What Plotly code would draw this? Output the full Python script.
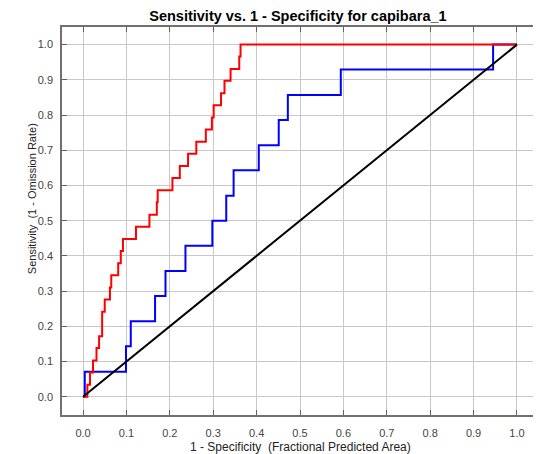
import plotly.graph_objects as go

# Training data (red) - step points: x = fractional predicted area, y = sensitivity
red_x = [0.000, 0.010, 0.016, 0.023, 0.031, 0.037, 0.044, 0.050, 0.062, 0.065, 0.081, 0.087, 0.092, 0.122,
         0.153, 0.170, 0.172, 0.206, 0.223, 0.242, 0.261, 0.283, 0.297, 0.301, 0.318, 0.326, 0.340, 0.360,
         0.363, 1.000]
red_y = [0.000, 0.034, 0.069, 0.103, 0.138, 0.172, 0.241, 0.276, 0.310, 0.345, 0.379, 0.414, 0.448, 0.483,
         0.517, 0.552, 0.586, 0.621, 0.655, 0.690, 0.724, 0.759, 0.793, 0.828, 0.862, 0.897, 0.931, 0.966,
         1.000, 1.000]

# Test data (blue)
blue_x = [0.000, 0.004, 0.099, 0.110, 0.166, 0.190, 0.236, 0.298, 0.330, 0.347, 0.405, 0.451, 0.472,
          0.594, 0.945, 1.000]
blue_y = [0.000, 0.071, 0.143, 0.214, 0.286, 0.357, 0.429, 0.500, 0.571, 0.643, 0.714, 0.786, 0.857,
          0.929, 1.000, 1.000]

# Random prediction (black)
diag_x = [0.0, 1.0]
diag_y = [0.0, 1.0]

tick_vals = [0.0, 0.1, 0.2, 0.3, 0.4, 0.5, 0.6, 0.7, 0.8, 0.9, 1.0]
tick_text = ["0.0", "0.1", "0.2", "0.3", "0.4", "0.5", "0.6", "0.7", "0.8", "0.9", "1.0"]

FONT = "Liberation Sans, Arial, sans-serif"

fig = go.Figure()
fig.add_trace(go.Scatter(x=blue_x, y=blue_y, mode="lines", line=dict(color="#0000ff", width=2, shape="hv"),
                         showlegend=False, hoverinfo="skip"))
fig.add_trace(go.Scatter(x=red_x, y=red_y, mode="lines", line=dict(color="#ff0000", width=2, shape="hv"),
                         showlegend=False, hoverinfo="skip"))
fig.add_trace(go.Scatter(x=diag_x, y=diag_y, mode="lines", line=dict(color="#000000", width=2),
                         showlegend=False, hoverinfo="skip"))

axis_common = dict(
    tickvals=tick_vals, ticktext=tick_text,
    showgrid=True, gridcolor="#c8c8c8", gridwidth=1,
    zeroline=False, automargin=False,
    showline=True, linecolor="#707070", linewidth=1.5, mirror="ticks",
    ticks="inside", ticklen=5, tickcolor="#606060", tickwidth=1,
    tickfont=dict(family=FONT, size=11, color="#444444"),
)

fig.update_layout(
    width=533, height=446,
    margin=dict(l=54, r=3, t=19, b=39, autoexpand=False),
    paper_bgcolor="white", plot_bgcolor="white",
    title=dict(text="<b>Sensitivity vs. 1 - Specificity for capibara_1</b>",
               font=dict(family=FONT, size=14.5, color="#000000"),
               x=0.544, xanchor="center", y=0.982, yanchor="middle"),
    xaxis=dict(range=[-0.0485, 1.0485], ticklabelstandoff=7, **axis_common),
    yaxis=dict(range=[-0.052, 1.05], ticklabelstandoff=5, **axis_common),
    annotations=[
        dict(text="1 - Specificity \u00a0(Fractional Predicted Area)", xref="paper", yref="paper",
             x=0.5, y=0, xanchor="center", yanchor="middle", yshift=-32, showarrow=False,
             font=dict(family=FONT, size=12, color="#222222")),
        dict(text="Sensitivity \u00a0(1 - Omission Rate)", xref="paper", yref="y",
             x=0, y=0.561, xanchor="center", yanchor="middle", xshift=-30, textangle=-90, showarrow=False,
             font=dict(family=FONT, size=11, color="#222222")),
    ],
)

fig.write_html("out.html")
